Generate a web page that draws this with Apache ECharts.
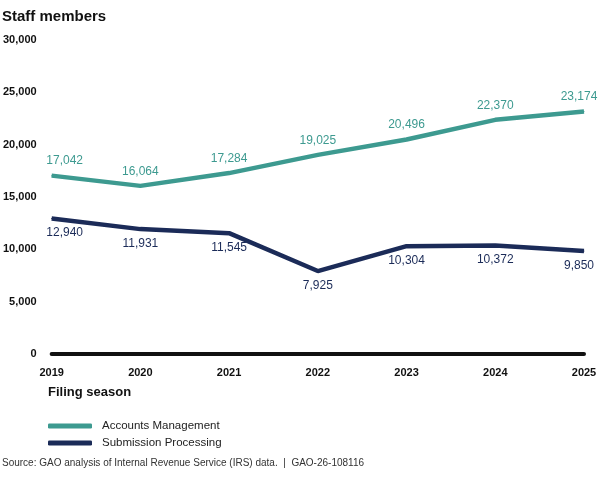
<!DOCTYPE html>
<html>
<head>
<meta charset="utf-8">
<script src="https://cdn.jsdelivr.net/npm/echarts@6/dist/echarts.min.js"></script>
<style>
html,body{margin:0;padding:0;background:#fff;}
#c{width:600px;height:480px;}
</style>
</head>
<body>
<div id="c"></div>
<script>
const years = ['2019','2020','2021','2022','2023','2024','2025'];
const accountsManagement = [17042, 16064, 17284, 19025, 20496, 22370, 23174];
const submissionProcessing = [12940, 11931, 11545, 7925, 10304, 10372, 9850];
const yTicks = { min: 0, max: 30000, interval: 5000 };

const TEAL = '#3d9a90';
const NAVY = '#1b2b58';
const FONT = 'Liberation Sans, Arial, sans-serif';

function withEdgeOffsets(values) {
  return values.map((v, i) => {
    const item = { value: v };
    if (i === 0) item.label = { offset: [13, 0] };
    if (i === values.length - 1) item.label = { offset: [-5, 0] };
    return item;
  });
}

const chart = echarts.init(document.getElementById('c'), null, { renderer: 'canvas' });
chart.setOption({
  animation: false,
  backgroundColor: '#fff',
  textStyle: { fontFamily: FONT },
  title: [
    { text: 'Staff members', left: 2, top: 9, padding: 0,
      textStyle: { fontFamily: FONT, fontSize: 15, fontWeight: 'bold', color: '#111' } },
    { text: 'Filing season', left: 48, top: 386, padding: 0,
      textStyle: { fontFamily: FONT, fontSize: 13, fontWeight: 'bold', color: '#111' } },
    { text: 'Source: GAO analysis of Internal Revenue Service (IRS) data.  |  GAO-26-108116', left: 2, top: 458, padding: 0,
      textStyle: { fontFamily: FONT, fontSize: 10, fontWeight: 'normal', color: '#333' } }
  ],
  legend: {
    orient: 'vertical', left: 48, top: 420, itemGap: 5, padding: 0,
    itemWidth: 44, itemHeight: 5, icon: 'roundRect',
    textStyle: { fontFamily: FONT, fontSize: 11.5, color: '#222', padding: [0, 0, 0, 5] },
    data: ['Accounts Management', 'Submission Processing']
  },
  grid: { left: 47, right: 16, top: 40, bottom: 126, containLabel: false },
  xAxis: {
    type: 'category', data: years, boundaryGap: false,
    axisLine: { show: true, lineStyle: { color: '#111', width: 4 } },
    axisTick: { show: false },
    axisLabel: { margin: 13, fontFamily: FONT, fontSize: 11, fontWeight: 'bold', color: '#111' },
    splitLine: { show: false }
  },
  yAxis: {
    type: 'value', min: yTicks.min, max: yTicks.max, interval: yTicks.interval,
    axisLine: { show: false }, axisTick: { show: false }, splitLine: { show: false },
    axisLabel: { margin: 15, fontFamily: FONT, fontSize: 11, fontWeight: 'bold', color: '#111',
      formatter: v => v.toLocaleString('en-US') }
  },
  series: [
    { name: 'Accounts Management', type: 'line', data: withEdgeOffsets(accountsManagement),
      symbol: 'circle', symbolSize: 1, showSymbol: true,
      lineStyle: { color: TEAL, width: 4.5 }, itemStyle: { color: TEAL },
      label: { show: true, position: 'top', distance: 8, fontFamily: FONT, fontSize: 12, color: TEAL,
        formatter: p => p.value.toLocaleString('en-US') } },
    { name: 'Submission Processing', type: 'line', data: withEdgeOffsets(submissionProcessing),
      symbol: 'circle', symbolSize: 1, showSymbol: true,
      lineStyle: { color: NAVY, width: 4.5 }, itemStyle: { color: NAVY },
      label: { show: true, position: 'bottom', distance: 8, fontFamily: FONT, fontSize: 12, color: NAVY,
        formatter: p => p.value.toLocaleString('en-US') } }
  ]
});
</script>
</body>
</html>
